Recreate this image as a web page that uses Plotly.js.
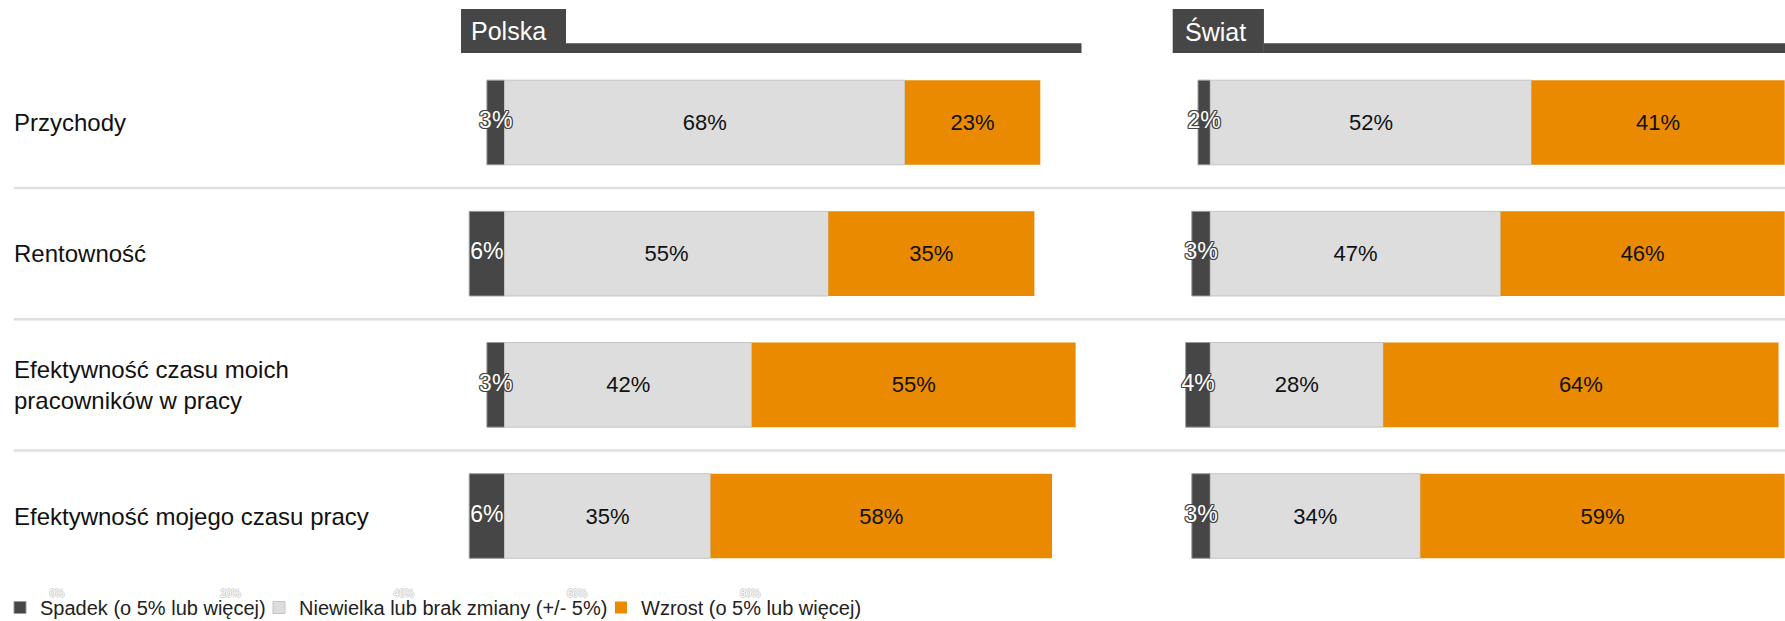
<!DOCTYPE html>
<html>
<head>
<meta charset="utf-8">
<script src="https://cdn.plot.ly/plotly-3.0.1.min.js"></script>
<style>
  html, body { margin: 0; padding: 0; background: #ffffff; }
  #chart { width: 1785px; height: 621px; }
</style>
</head>
<body>
<div id="chart"></div>
<script>
// ---------- data ----------
const categories = ['Przychody', 'Rentowność', 'Efektywność czasu moich pracowników w pracy', 'Efektywność mojego czasu pracy'];
const categoryLabels = ['Przychody', 'Rentowność', 'Efektywność czasu moich<br>pracowników w pracy', 'Efektywność mojego czasu pracy'];
const seriesNames = ['Spadek (o 5% lub więcej)', 'Niewielka lub brak zmiany (+/- 5%)', 'Wzrost (o 5% lub więcej)'];
const panelTitles = ['Polska', 'Świat'];

const polskaSpadek = [3, 6, 3, 6];
const polskaBrak   = [68, 55, 42, 35];
const polskaWzrost = [23, 35, 55, 58];

const swiatSpadek = [2, 3, 4, 3];
const swiatBrak   = [52, 47, 28, 34];
const swiatWzrost = [41, 46, 64, 59];

const ghostTickVals = [0, 20, 40, 60, 80];
const ghostTickText = ['0%', '20%', '40%', '60%', '80%'];

// ---------- styling ----------
const FONT = 'Liberation Sans, Arial, Helvetica, sans-serif';
const colors = ['#464646', '#dddddd', '#e98a00'];
const W = 1785, H = 621;
const py = v => 1 - v / H;   // pixel row -> paper y
const px = v => v / W;       // pixel col -> paper x
const legendIds = ['legend', 'legend2', 'legend3'];
const legendLeft = [0, 259, 601];

const outline = '1px 1px 0 #444, -1px -1px 0 #444, 1px -1px 0 #444, -1px 1px 0 #444, 0 1px 0 #444, 0 -1px 0 #444, 1px 0 0 #444, -1px 0 0 #444';

function panelTraces(spadek, brak, wzrost, xa, ya, showLegend) {
  const pct = v => v + '%';
  const common = {
    type: 'bar', orientation: 'h', y: categories, xaxis: xa, yaxis: ya,
    textposition: 'inside', insidetextanchor: 'middle', textangle: 0,
    constraintext: 'none', cliponaxis: false, hoverinfo: 'skip',
    showlegend: showLegend
  };
  return [
    Object.assign({}, common, {
      name: seriesNames[0], legendgroup: 's0', legend: legendIds[0],
      x: spadek.map(v => -v), textposition: 'none',
      marker: { color: colors[0], line: { color: '#9a9a9a', width: 1 } }
    }),
    Object.assign({}, common, {
      name: seriesNames[1], legendgroup: 's1', legend: legendIds[1],
      x: brak, text: brak.map(pct),
      marker: { color: colors[1], line: { color: '#c4c4c4', width: 1 } },
      textfont: { family: FONT, size: 22, color: '#111111' }
    }),
    Object.assign({}, common, {
      name: seriesNames[2], legendgroup: 's2', legend: legendIds[2],
      x: wzrost, text: wzrost.map(pct),
      marker: { color: colors[2], line: { color: '#e98a00', width: 0 } },
      textfont: { family: FONT, size: 22, color: '#111111' }
    }),
    // labels of the (narrow) decrease segments, centred on each segment
    {
      type: 'scatter', mode: 'text', xaxis: xa, yaxis: ya, y: categories,
      x: spadek.map(v => -v / 2), text: spadek.map(pct), textposition: 'middle center',
      textfont: { family: FONT, size: 23, color: '#ffffff', shadow: outline },
      cliponaxis: false, showlegend: false, hoverinfo: 'skip'
    }
  ];
}

const traces = []
  .concat(panelTraces(polskaSpadek, polskaBrak, polskaWzrost, 'x', 'y', true))
  .concat(panelTraces(swiatSpadek, swiatBrak, swiatWzrost, 'x2', 'y2', false));

// faint leftover tick axis (drawn through its own axis)
traces.push({ type: 'scatter', mode: 'markers', x: [], y: [], xaxis: 'x3', yaxis: 'y3', showlegend: false, hoverinfo: 'skip' });

const yDomain = [py(581.6), py(56.9)];
const hiddenAxis = { showgrid: false, zeroline: false, showline: false, showticklabels: false, ticks: '', fixedrange: true };

const shapes = [];
// separators between rows
[0.5, 1.5, 2.5].forEach(v => shapes.push({
  type: 'line', xref: 'paper', yref: 'y', x0: px(13.7), x1: 1, y0: v, y1: v,
  line: { color: '#e0e0e0', width: 2.5 }, layer: 'below'
}));
// panel title tabs
[['x domain', 0.1692], ['x2 domain', 0.149]].forEach(([ref, split]) => {
  shapes.push({ type: 'rect', xref: ref, yref: 'paper', x0: 0, x1: split, y0: py(53), y1: py(9), fillcolor: '#464646', line: { width: 0 } });
  shapes.push({ type: 'rect', xref: ref, yref: 'paper', x0: split, x1: 1, y0: py(53), y1: py(43.3), fillcolor: '#464646', line: { width: 0 } });
});

const annotations = [];
[['x domain', 0.0135], ['x2 domain', 0.0175]].forEach(([ref, xx], i) => annotations.push({
  xref: ref, yref: 'paper', x: xx, y: py(31), xanchor: 'left', yanchor: 'middle',
  text: panelTitles[i], showarrow: false, font: { family: FONT, size: 25, color: '#ffffff' }
}));
categories.forEach((c, i) => annotations.push({
  xref: 'paper', yref: 'y', x: px(11.5), y: c, xanchor: 'left', yanchor: 'middle', align: 'left',
  text: categoryLabels[i], showarrow: false, font: { family: FONT, size: 24, color: '#111111' }
}));

const legendBase = {
  orientation: 'h', xanchor: 'left', y: py(607.5), yanchor: 'middle',
  font: { family: FONT, size: 20, color: '#222222' }, traceorder: 'normal',
  bgcolor: 'rgba(0,0,0,0)', borderwidth: 0, itemclick: false, itemdoubleclick: false
};

const layout = {
  width: W, height: H,
  margin: { l: 0, r: 0, t: 0, b: 0, pad: 0, autoexpand: false },
  paper_bgcolor: '#ffffff', plot_bgcolor: 'rgba(0,0,0,0)',
  barmode: 'relative', bargap: 0.355,
  font: { family: FONT, color: '#111111' },
  xaxis: Object.assign({}, hiddenAxis, { domain: [px(461), px(1081.5)], range: [-7.4, 98], anchor: 'y' }),
  yaxis: Object.assign({}, hiddenAxis, { domain: yDomain, type: 'category', categoryarray: categories, categoryorder: 'array', range: [3.5, -0.5], anchor: 'x' }),
  xaxis2: Object.assign({}, hiddenAxis, { domain: [px(1172.7), 1], range: [-6.1, 93.05], anchor: 'y2' }),
  yaxis2: Object.assign({}, hiddenAxis, { domain: yDomain, type: 'category', categoryarray: categories, categoryorder: 'array', range: [3.5, -0.5], anchor: 'x2' }),
  xaxis3: {
    domain: [0, 1], range: [-6.578, 199.42], anchor: 'y3',
    showgrid: false, zeroline: false, showline: false, ticks: '', fixedrange: true,
    tickmode: 'array', tickvals: ghostTickVals, ticktext: ghostTickText,
    tickfont: { family: FONT, size: 10, color: '#ffffff', shadow: '1px 0 0 #d0d0d0, -1px 0 0 #d0d0d0, 0 1px 0 #d0d0d0, 0 -1px 0 #d0d0d0' }
  },
  yaxis3: Object.assign({}, hiddenAxis, { domain: [py(586), py(582)], anchor: 'x3', visible: false }),
  showlegend: true,
  legend: Object.assign({}, legendBase, { x: px(legendLeft[0]) }),
  legend2: Object.assign({}, legendBase, { x: px(legendLeft[1]) }),
  legend3: Object.assign({}, legendBase, { x: px(legendLeft[2]) }),
  shapes: shapes,
  annotations: annotations
};

Plotly.newPlot('chart', traces, layout, { displayModeBar: false, staticPlot: true });
</script>
</body>
</html>
